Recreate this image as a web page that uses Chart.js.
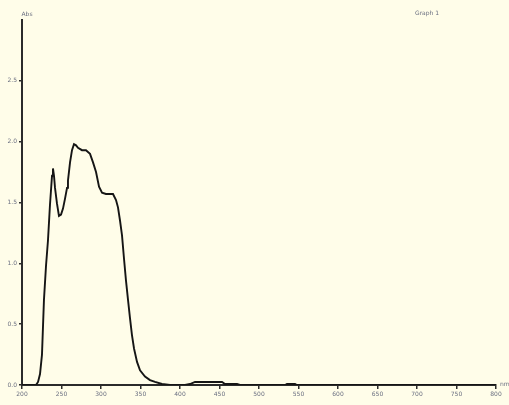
<!DOCTYPE html>
<html>
<head>
<meta charset="utf-8">
<script src="https://cdn.jsdelivr.net/npm/chart.js@4/dist/chart.umd.min.js"></script>
<style>
  html, body { margin: 0; padding: 0; background: #fffde9; }
  #wrap { width: 509px; height: 405px; }
</style>
</head>
<body>
<div id="wrap"><canvas id="c" width="509" height="405"></canvas></div>
<script>
// Absorbance spectrum: wavelength (nm) and absorbance
const wavelengths = [200, 217.7, 220.3, 222.8, 225.3, 227.8, 230.4, 232.9, 235.4, 238.0, 239.2, 240.5, 241.8, 244.3, 246.8, 249.4, 251.9, 254.4, 257.0, 258.2, 260.8, 263.3, 265.8, 268.4, 270.9, 275.9, 281.0, 286.1, 289.9, 293.7, 297.5, 301.3, 306.3, 311.4, 315.2, 319.0, 321.5, 324.1, 326.6, 329.1, 331.6, 334.2, 336.7, 339.2, 341.8, 345.6, 349.4, 355.7, 362.0, 368.4, 377.2, 387.3, 406.3, 412.7, 419.0, 453.2, 457.0, 472.2, 475.9, 532.9, 535.4, 545.6, 548.1, 800];
const absorbance = [0, 0, 0.025, 0.09, 0.25, 0.70, 0.98, 1.19, 1.48, 1.72, 1.78, 1.72, 1.62, 1.49, 1.39, 1.40, 1.45, 1.53, 1.62, 1.68, 1.83, 1.93, 1.98, 1.97, 1.95, 1.93, 1.93, 1.90, 1.83, 1.75, 1.63, 1.58, 1.57, 1.57, 1.57, 1.52, 1.46, 1.35, 1.23, 1.04, 0.86, 0.70, 0.55, 0.41, 0.30, 0.19, 0.12, 0.07, 0.04, 0.025, 0.008, 0, 0, 0.008, 0.025, 0.025, 0.008, 0.008, 0, 0, 0.008, 0.008, 0, 0];

const xTicks = [200, 250, 300, 350, 400, 450, 500, 550, 600, 650, 700, 750, 800];
const yTicks = [0.0, 0.5, 1.0, 1.5, 2.0, 2.5];
const yUnit = 'Abs';
const xUnit = 'nm';
const graphName = 'Graph 1';

const axisColor = '#2b2b2b';
const labelColor = '#6a6f80';
const labelFont = { family: 'DejaVu Sans', size: 6 };

const points = wavelengths.map((w, i) => ({ x: w, y: absorbance[i] }));

// Extra texts: axis units and the graph name
const annotations = {
  id: 'annotations',
  afterDraw(chart) {
    const { ctx, chartArea } = chart;
    ctx.save();
    ctx.fillStyle = labelColor;
    ctx.font = '6px "DejaVu Sans"';
    ctx.textBaseline = 'middle';
    ctx.textAlign = 'center';
    ctx.fillText(yUnit, chartArea.left + 5, chartArea.top - 6);
    ctx.textAlign = 'left';
    ctx.fillText(xUnit, chartArea.right + 4, chartArea.bottom - 1);
    ctx.fillText(graphName, 415, 13);
    ctx.restore();
  }
};

new Chart(document.getElementById('c'), {
  type: 'line',
  data: {
    datasets: [{
      data: points,
      borderColor: '#151515',
      borderWidth: 1.9,
      pointRadius: 0,
      tension: 0,
      fill: false
    }]
  },
  options: {
    responsive: false,
    animation: false,
    events: [],
    layout: { padding: { top: 20, right: 13, left: 0, bottom: 0 } },
    plugins: { legend: { display: false }, tooltip: { enabled: false } },
    scales: {
      x: {
        type: 'linear',
        min: 200,
        max: 800,
        afterBuildTicks: s => { s.ticks = xTicks.map(v => ({ value: v })); },
        afterFit: s => { s.height = 20; },
        border: { color: axisColor, width: 2 },
        grid: { drawOnChartArea: false, color: axisColor, tickLength: 4, lineWidth: 1.5 },
        ticks: { color: labelColor, font: labelFont, padding: 2, maxRotation: 0, autoSkip: false,
                 callback: v => String(v) }
      },
      y: {
        min: 0,
        max: 3.0,
        afterBuildTicks: s => { s.ticks = yTicks.map(v => ({ value: v })); },
        afterFit: s => { s.width = 22; },
        border: { color: axisColor, width: 2 },
        grid: { drawOnChartArea: false, color: axisColor, tickLength: 3, lineWidth: 1.5 },
        ticks: { color: labelColor, font: labelFont, padding: 2, autoSkip: false,
                 callback: v => Number(v).toFixed(1) }
      }
    }
  },
  plugins: [annotations]
});
</script>
</body>
</html>
